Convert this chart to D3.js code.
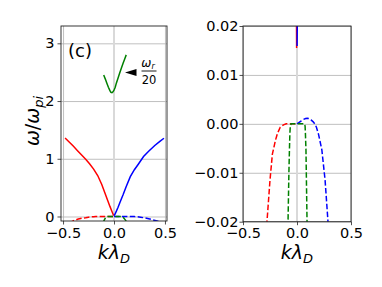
<!DOCTYPE html>
<html>
<head>
<meta charset="utf-8">
<script src="https://cdn.jsdelivr.net/npm/d3@7"></script>
<style>
  body { margin: 0; background: #fff; }
  svg text { font-family: "DejaVu Sans", sans-serif; }
</style>
</head>
<body>
<script>
// ion acoustic branch going left (real part)
var redK = [-0.48, -0.44, -0.40, -0.36, -0.32, -0.28, -0.24, -0.20, -0.16, -0.12, -0.09, -0.06, -0.04, -0.02, -0.01, -0.0036];
var redW = [1.36, 1.29, 1.22, 1.145, 1.07, 0.995, 0.915, 0.82, 0.71, 0.555, 0.41, 0.27, 0.175, 0.087, 0.044, 0.0155];
// ion acoustic branch going right (real part)
var blueK = [0.001, 0.01, 0.02, 0.04, 0.06, 0.09, 0.12, 0.16, 0.20, 0.24, 0.29, 0.34, 0.40, 0.45, 0.49];
var blueW = [0.0159, 0.04, 0.08, 0.16, 0.25, 0.38, 0.52, 0.69, 0.81, 0.91, 1.04, 1.13, 1.23, 1.30, 1.355];
// electron branch, shown as omega_r / 20
var greenK = [-0.101, -0.085, -0.07, -0.055, -0.04, -0.03, -0.02, -0.01, 0.0, 0.012, 0.023, 0.04, 0.055, 0.072, 0.09, 0.105, 0.12];
var greenW = [2.45, 2.38, 2.31, 2.24, 2.18, 2.15, 2.145, 2.16, 2.19, 2.24, 2.31, 2.40, 2.48, 2.57, 2.66, 2.73, 2.80];

// imaginary parts (dashed)
var redGK = [-0.50, -0.45, -0.40, -0.35, -0.30, -0.278, -0.25, -0.228, -0.20, -0.18, -0.155, -0.125, -0.10, -0.06, -0.03, 0];
var redG = [-0.20, -0.125, -0.075, -0.044, -0.0255, -0.02, -0.0115, -0.0062, -0.0034, -0.0019, -0.0007, -0.0002, 0, 0, 0, 0];
var blueGK = [0, 0.02, 0.04, 0.06, 0.08, 0.095, 0.11, 0.13, 0.15, 0.165, 0.18, 0.20, 0.23, 0.26, 0.287, 0.33, 0.38, 0.43, 0.48];
var blueG = [0, 0.0003, 0.0006, 0.0009, 0.0011, 0.00115, 0.0011, 0.0008, 0.0004, 0, -0.0007, -0.0022, -0.0053, -0.0115, -0.02, -0.035, -0.057, -0.08, -0.11];
var greenGK = [-0.105, -0.10, -0.092, -0.083, -0.075, -0.07, -0.066, -0.062, -0.055, 0, 0.07, 0.075, 0.078, 0.083, 0.093, 0.105, 0.12];
var greenG = [-0.11, -0.08, -0.05, -0.02, -0.01, -0.0053, -0.002, -0.0005, 0, 0, 0, -0.0005, -0.002, -0.0053, -0.02, -0.045, -0.08];

var xTicks = [-0.5, 0, 0.5];
var yTicksLeft = [0, 1, 2, 3];
var yTicksRight = [-0.02, -0.01, 0, 0.01, 0.02];

var width = 382,
    height = 287;

var svg = d3.select("body")
  .append("svg")
  .attr("width", width)
  .attr("height", height);

svg.append("rect")
    .attr("width", width)
    .attr("height", height)
    .attr("fill", "#fff");

var series = [
  {k: redK, v: redW, color: "#ff0000", dash: null},
  {k: blueK, v: blueW, color: "#0000ff", dash: null},
  {k: greenK, v: greenW, color: "#008000", dash: null},
  {k: redGK, v: redG, color: "#ff0000", dash: "5.5,2.4"},
  {k: blueGK, v: blueG, color: "#0000ff", dash: "5.5,2.4"},
  {k: greenGK, v: greenG, color: "#008000", dash: "5.5,2.4"}
];

var fmtTick = function(d) { return d3.format(".1f")(d).replace("-", "\u2212"); };

function panel(id, left, right, top, bottom, xDom, yDom, yTicks, yFmt, labelX) {
  var x = d3.scaleLinear().domain(xDom).range([left, right]);
  var y = d3.scaleLinear().domain(yDom).range([bottom, top]);

  var g = svg.append("g");

  svg.append("clipPath")
      .attr("id", id)
    .append("rect")
      .attr("x", left)
      .attr("y", top)
      .attr("width", right - left)
      .attr("height", bottom - top);

  // grid
  g.append("g")
      .attr("transform", "translate(0," + bottom + ")")
      .call(d3.axisBottom(x).tickValues(xTicks.filter(function(d) { return d !== 0; }))
        .tickSize(-(bottom - top)).tickFormat(""))
      .call(function(s) {
        s.select(".domain").remove();
        s.selectAll("line").attr("stroke", "#b0b0b0").attr("stroke-width", 0.8);
      });
  g.append("g")
      .attr("transform", "translate(" + left + ",0)")
      .call(d3.axisLeft(y).tickValues(yTicks).tickSize(-(right - left)).tickFormat(""))
      .call(function(s) {
        s.select(".domain").remove();
        s.selectAll("line").attr("stroke", "#b0b0b0").attr("stroke-width", 0.8);
      });
  // k = 0 marker line
  g.append("line")
      .attr("x1", x(0)).attr("x2", x(0))
      .attr("y1", top).attr("y2", bottom)
      .attr("stroke", "#d9d9d9")
      .attr("stroke-width", 2);

  var line = d3.line()
      .x(function(d) { return x(d[0]); })
      .y(function(d) { return y(d[1]); });

  g.append("g")
      .attr("clip-path", "url(#" + id + ")")
    .selectAll("path")
      .data(series)
    .enter().append("path")
      .attr("d", function(s) { return line(d3.zip(s.k, s.v)); })
      .attr("fill", "none")
      .attr("stroke", function(s) { return s.color; })
      .attr("stroke-width", 1.5)
      .attr("stroke-dasharray", function(s) { return s.dash; });

  // axes
  var xa = g.append("g")
      .attr("transform", "translate(0," + bottom + ")")
      .call(d3.axisBottom(x).tickValues(xTicks).tickSize(3.5).tickPadding(3).tickFormat(fmtTick));
  var ya = g.append("g")
      .attr("transform", "translate(" + left + ",0)")
      .call(d3.axisLeft(y).tickValues(yTicks).tickSize(3.5).tickPadding(labelX).tickFormat(yFmt));
  [xa, ya].forEach(function(a) {
    a.select(".domain").remove();
    a.selectAll("line").attr("stroke", "#222").attr("stroke-width", 0.8);
    a.selectAll("text")
        .attr("fill", "#000")
        .attr("font-size", "14.5px")
        .attr("font-family", "DejaVu Sans");
  });

  g.append("rect")
      .attr("x", left).attr("y", top)
      .attr("width", right - left).attr("height", bottom - top)
      .attr("fill", "none")
      .attr("stroke", "#222")
      .attr("stroke-width", 0.9);

  // x label
  var xl = g.append("text")
      .attr("x", (left + right) / 2)
      .attr("y", 259)
      .attr("text-anchor", "middle")
      .attr("font-size", "19px")
      .attr("font-style", "italic");
  xl.append("tspan").text("k\u03bb");
  xl.append("tspan").attr("font-size", "13px").attr("dy", 4).text("D");

  return {x: x, y: y};
}

var L = panel("clipL", 61, 167, 26, 221, [-0.52, 0.52], [-0.078, 3.3], yTicksLeft,
  d3.format("d"), 3);
var R = panel("clipR", 243, 351, 26, 221.7, [-0.5, 0.5], [-0.02, 0.02], yTicksRight,
  function(d) { return d3.format(".2f")(d).replace("-", "\u2212"); }, 1);

// y label
var yl = svg.append("text")
    .attr("transform", "translate(39,121) rotate(-90)")
    .attr("text-anchor", "middle")
    .attr("font-size", "19px");
yl.append("tspan").attr("font-style", "italic").text("\u03c9");
yl.append("tspan").text("/");
yl.append("tspan").attr("font-style", "italic").text("\u03c9");
yl.append("tspan").attr("font-style", "italic").attr("font-size", "13px").attr("dy", 4).text("pi");

// panel tag
svg.append("text")
    .attr("x", 68)
    .attr("y", 57)
    .attr("font-size", "18px")
    .text("(c)");

// annotation for the scaled electron branch
svg.append("path")
    .attr("d", "M125,72.5 L136.5,69 L136.5,76 Z")
    .attr("fill", "#000");
var num = svg.append("text")
    .attr("x", 148)
    .attr("y", 67)
    .attr("text-anchor", "middle")
    .attr("font-size", "12px");
num.append("tspan").attr("font-style", "italic").text("\u03c9");
num.append("tspan").attr("font-style", "italic").attr("font-size", "8px").attr("dy", 2).text("r");
svg.append("line")
    .attr("x1", 141.5).attr("x2", 156.5)
    .attr("y1", 71).attr("y2", 71)
    .attr("stroke", "#000")
    .attr("stroke-width", 0.9);
svg.append("text")
    .attr("x", 149)
    .attr("y", 83.5)
    .attr("text-anchor", "middle")
    .attr("font-size", "11.5px")
    .text("20");
</script>
</body>
</html>
